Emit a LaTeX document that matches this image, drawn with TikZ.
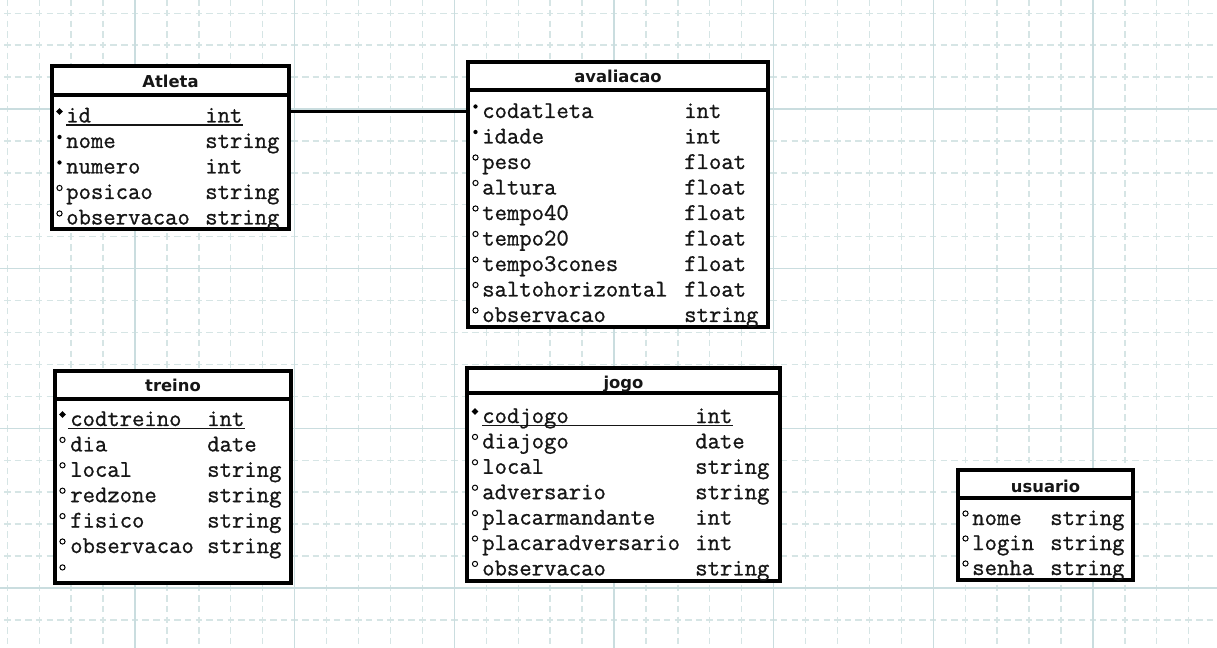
\documentclass[tikz,border=0pt]{standalone}
\usepackage{fontspec}
\newfontfamily\fieldfont{Latin Modern Mono}[FakeBold=0.9]
\newfontfamily\titlefont{DejaVu Sans}
\usetikzlibrary{shapes.geometric,fit}
\definecolor{gridminor}{RGB}{214,229,229}
\definecolor{gridmajor}{RGB}{202,221,223}
\definecolor{ink}{RGB}{22,22,22}

\begin{document}
\begin{tikzpicture}[x=0.75pt,y=-0.75pt,
  box/.style={draw=black, line width=2.3pt, fill=white, inner sep=0pt},
  title/.style={font=\titlefont\bfseries\fontsize{12.3pt}{14pt}\selectfont, anchor=base, inner sep=0pt, text=ink},
  field/.style={font=\fieldfont\fontsize{18pt}{20pt}\selectfont, anchor=base west, inner sep=0pt, text=ink},
  keymark/.style={diamond, fill=black, inner sep=0pt, minimum size=5.2pt},
  reqmark/.style={circle, fill=black, inner sep=0pt, minimum size=3.2pt},
  optmark/.style={circle, draw=black, line width=0.75pt, inner sep=0pt, minimum size=3.9pt},
  keyline/.style={line width=1.1pt, draw=ink},
  link/.style={line width=2.3pt, draw=black},
  minor/.style={draw=gridminor, line width=1pt, dash pattern=on 4.875pt off 3.107pt},
  major/.style={draw=gridmajor, line width=1.1pt}]

\useasboundingbox (0,0) rectangle (1217,648);

% background grid
\begin{scope}
  \clip (0,0) rectangle (1217,648);
  \fill[white] (0,0) rectangle (1217,648);
  \foreach \k in {0,...,37}
    \draw[minor] ({7.3+31.93*\k},-21.98) -- ({7.3+31.93*\k},670);
  \foreach \k in {0,...,19}
    \draw[minor] (-27.88,{13.2+31.93*\k}) -- (1240,{13.2+31.93*\k});
  \foreach \k in {4,9,...,34}
    \draw[major] ({7.3+31.93*\k},0) -- ({7.3+31.93*\k},648);
  \foreach \k in {3,8,13,18}
    \draw[major] (0,{13.2+31.93*\k}) -- (1217,{13.2+31.93*\k});
\end{scope}

% ---------- Atleta ----------
\node[box, fit={(52,95) (289,229)}] (atleta) {};
\node[box, fit={(52,66) (289,95)}] (atleta-head) {};
\node[title] (atleta-title) at (170.5,88) {Atleta};
\foreach \i/\m/\n/\t in {1/keymark/id/int, 2/reqmark/nome/string,
    3/reqmark/numero/int, 4/optmark/posicao/string, 5/optmark/observacao/string} {
  \pgfmathsetmacro\b{122.5+25.5*(\i-1)}
  \node[\m] (atleta-m\i) at (59.5,{\b-11}) {};
  \node[field] (atleta-n\i) at (66,\b) {\n};
  \node[field] (atleta-t\i) at (205,\b) {\t};
}
\draw[keyline] ([yshift=-1.9pt]atleta-n1.base west) -- ([yshift=-1.9pt]atleta-t1.base east);

% ---------- avaliacao ----------
\node[box, fit={(468,90) (768,327)}] (avaliacao) {};
\node[box, fit={(468,62) (768,90)}] (avaliacao-head) {};
\node[title] (avaliacao-title) at (618,83) {avaliacao};
\foreach \i/\m/\n/\t in {1/reqmark/codatleta/int, 2/reqmark/idade/int,
    3/optmark/peso/float, 4/optmark/altura/float, 5/optmark/tempo40/float,
    6/optmark/tempo20/float, 7/optmark/tempo3cones/float,
    8/optmark/saltohorizontal/float, 9/optmark/observacao/string} {
  \pgfmathsetmacro\b{118+25.5*(\i-1)}
  \node[\m] (avaliacao-m\i) at (475.5,{\b-11.5}) {};
  \node[field] (avaliacao-n\i) at (482,\b) {\n};
  \node[field] (avaliacao-t\i) at (684,\b) {\t};
}

% ---------- treino ----------
\node[box, fit={(55,399) (291,583)}] (treino) {};
\node[box, fit={(55,371) (291,399)}] (treino-head) {};
\node[title] (treino-title) at (173,392) {treino};
\foreach \i/\m/\n/\t in {1/keymark/codtreino/int, 2/optmark/dia/date,
    3/optmark/local/string, 4/optmark/redzone/string, 5/optmark/fisico/string,
    6/optmark/observacao/string} {
  \pgfmathsetmacro\b{426+25.4*(\i-1)}
  \node[\m] (treino-m\i) at (62.5,{\b-11.5}) {};
  \node[field] (treino-n\i) at (70,\b) {\n};
  \node[field] (treino-t\i) at (207,\b) {\t};
}
\node[optmark] (treino-m7) at (62.5,567.4) {};
\draw[keyline] ([yshift=-1.9pt,xshift=-1.5pt]treino-n1.base west) -- ([yshift=-1.9pt]treino-t1.base east);

% ---------- jogo ----------
\node[box, fit={(467,393) (780,581)}] (jogo) {};
\node[box, fit={(467,368) (780,393)}] (jogo-head) {};
\node[title] (jogo-title) at (623.5,388) {jogo};
\foreach \i/\m/\n/\t in {1/keymark/codjogo/int, 2/optmark/diajogo/date,
    3/optmark/local/string, 4/optmark/adversario/string,
    5/optmark/placarmandante/int, 6/optmark/placaradversario/int,
    7/optmark/observacao/string} {
  \pgfmathsetmacro\b{423+25.4*(\i-1)}
  \node[\m] (jogo-m\i) at (475,{\b-11.5}) {};
  \node[field] (jogo-n\i) at (482,\b) {\n};
  \node[field] (jogo-t\i) at (695,\b) {\t};
}
\draw[keyline] ([yshift=-1.9pt]jogo-n1.base west) -- ([yshift=-1.9pt]jogo-t1.base east);

% ---------- usuario ----------
\node[box, fit={(958,498) (1133,580)}] (usuario) {};
\node[box, fit={(958,470) (1133,498)}] (usuario-head) {};
\node[title] (usuario-title) at (1045.5,492) {usuario};
\foreach \i/\m/\n/\t in {1/optmark/nome/string, 2/optmark/login/string,
    3/optmark/senha/string} {
  \pgfmathsetmacro\b{525+25*(\i-1)}
  \node[\m] (usuario-m\i) at (965.5,{\b-11.5}) {};
  \node[field] (usuario-n\i) at (972,\b) {\n};
  \node[field] (usuario-t\i) at (1050,\b) {\t};
}

% relationship Atleta -- avaliacao
\draw[link] (atleta.east |- atleta-m1.center) -- (avaliacao.west |- atleta-m1.center);

\end{tikzpicture}
\end{document}
